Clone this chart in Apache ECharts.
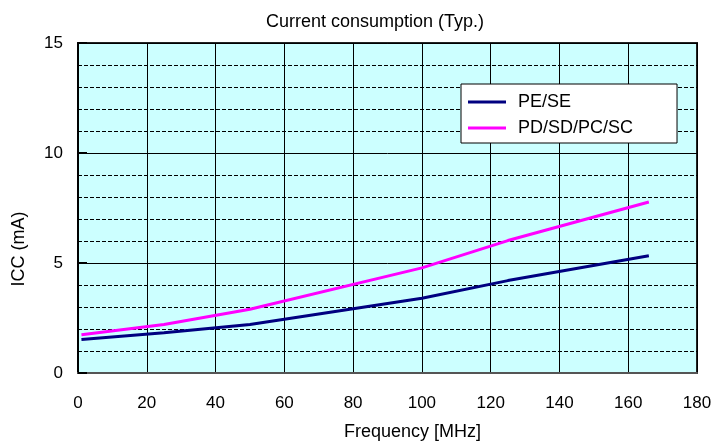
<!DOCTYPE html>
<html>
<head>
<meta charset="utf-8">
<script src="https://cdn.jsdelivr.net/npm/echarts@6/dist/echarts.min.js"></script>
<style>html,body{margin:0;padding:0;background:#fff}#c{width:715px;height:446px}</style>
</head>
<body>
<div id="c"></div>
<script>
const freq = [1, 25, 50, 100, 125, 166];
const peSe = [1.52, 1.83, 2.2, 3.4, 4.2, 5.33];
const pdSd = [1.74, 2.2, 2.9, 4.78, 6.02, 7.77];
const xTicks = [0, 20, 40, 60, 80, 100, 120, 140, 160, 180];
const yTicks = [0, 5, 10, 15];
const seriesNames = ['PE/SE', 'PD/SD/PC/SC'];

const font = 'Liberation Sans, Arial, sans-serif';
const chart = echarts.init(document.getElementById('c'), null, {renderer: 'canvas'});
chart.setOption({
  animation: false,
  backgroundColor: '#fff',
  textStyle: {fontFamily: font, color: '#000'},
  title: {
    text: 'Current consumption (Typ.)',
    left: 261, top: 8,
    textStyle: {fontFamily: font, fontSize: 18, fontWeight: 'normal', color: '#000'}
  },
  grid: {
    left: 78, right: 18, top: 43, bottom: 69,
    show: true, backgroundColor: '#ccffff', borderColor: '#222', borderWidth: 2
  },
  legend: {
    orient: 'vertical',
    left: 461, top: 84,
    backgroundColor: '#fff', borderColor: '#000', borderWidth: 1,
    padding: [9, 44, 6, 7],
    itemGap: 8,
    itemWidth: 38, itemHeight: 3,
    icon: 'rect',
    textStyle: {fontFamily: font, fontSize: 18, color: '#000', padding: [0, 0, 0, 7]},
    data: seriesNames
  },
  xAxis: {
    type: 'value', min: xTicks[0], max: xTicks[xTicks.length - 1], interval: 20,
    name: 'Frequency [MHz]', nameLocation: 'middle', nameGap: 50,
    nameTextStyle: {fontFamily: font, fontSize: 18, color: '#000', padding: [0, 0, 0, 50]},
    axisLine: {show: true, lineStyle: {color: '#555', width: 2}},
    axisTick: {show: false},
    axisLabel: {fontFamily: font, fontSize: 17, color: '#000', margin: 22},
    splitLine: {show: true, lineStyle: {color: '#000', width: 1}}
  },
  yAxis: {
    type: 'value', min: yTicks[0], max: yTicks[yTicks.length - 1], interval: 5,
    name: 'ICC (mA)', nameLocation: 'middle', nameGap: 50,
    nameTextStyle: {fontFamily: font, fontSize: 18, color: '#000', padding: [0, 82, 0, 0]},
    axisLine: {show: true, lineStyle: {color: '#000', width: 2}},
    axisTick: {show: true, inside: true, length: 9, lineStyle: {color: '#000', width: 2}},
    minorTick: {show: false, splitNumber: 5},
    minorSplitLine: {show: true, lineStyle: {color: '#000', width: 1, type: [4, 2]}},
    axisLabel: {fontFamily: font, fontSize: 17, color: '#000', margin: 15},
    splitLine: {show: true, lineStyle: {color: '#000', width: 1}}
  },
  series: [
    {
      name: seriesNames[0], type: 'line', showSymbol: false, symbol: 'none',
      lineStyle: {color: '#000080', width: 3}, itemStyle: {color: '#000080'},
      data: freq.map((f, i) => [f, peSe[i]]), z: 3
    },
    {
      name: seriesNames[1], type: 'line', showSymbol: false, symbol: 'none',
      lineStyle: {color: '#ff00ff', width: 3}, itemStyle: {color: '#ff00ff'},
      data: freq.map((f, i) => [f, pdSd[i]]), z: 4
    }
  ]
});
</script>
</body>
</html>
